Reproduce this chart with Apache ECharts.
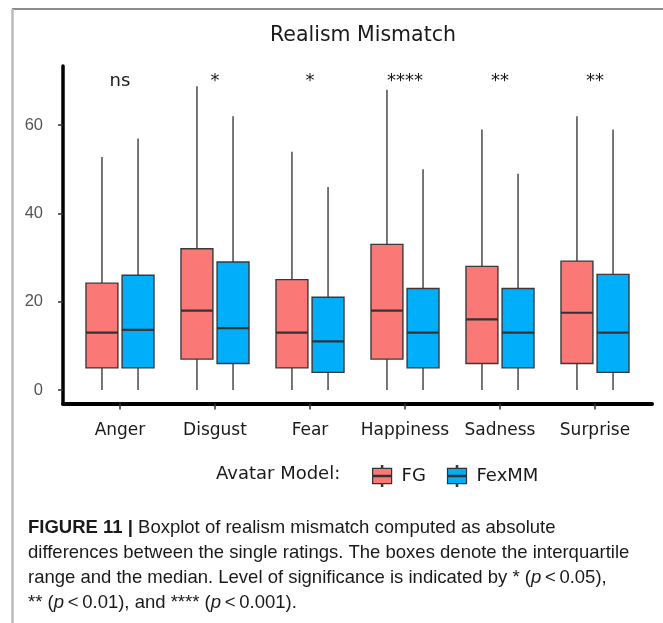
<!DOCTYPE html>
<html><head><meta charset="utf-8">
<script src="https://cdn.jsdelivr.net/npm/echarts@6/dist/echarts.min.js"></script>
<style>html,body{margin:0;padding:0;background:#fff}#c{width:663px;height:623px}</style>
</head><body><div id="c"></div>
<script>
// ---- data ----
const categories = ['Anger', 'Disgust', 'Fear', 'Happiness', 'Sadness', 'Surprise'];
// [min, Q1, median, Q3, max (whisker end)]
const fgStats = [
  [0, 5, 13, 24.2, 52.8],
  [0, 7, 18, 32, 68.8],
  [0, 5, 13, 25, 54],
  [0, 7, 18, 33, 68],
  [0, 6, 16, 28, 59],
  [0, 6, 17.5, 29.2, 62]
];
const fexmmStats = [
  [0, 5, 13.6, 26, 57],
  [0, 6, 14, 29, 62],
  [0, 4, 11, 21, 46],
  [0, 5, 13, 23, 50],
  [0, 5, 13, 23, 49],
  [0, 4, 13, 26.2, 59]
];
const significance = ['ns', '*', '*', '****', '**', '**'];
const sigLevel = [70, 70, 70, 70, 70, 70];
const yTicks = [0, 20, 40, 60];
const catPositions = [1, 2, 3, 4, 5, 6];

// ---- styling ----
const FG_COLOR = '#FA7876';
const FEX_COLOR = '#00AEFA';
const OFFSET = 0.19;
const HALF_W = 0.168;
const TS = '\u2009';

function makeBox(off, color) {
  return function (params, api) {
    const c = api.value(0) + off;
    const pMin = api.coord([c, api.value(1)]);
    const pQ1 = api.coord([c, api.value(2)]);
    const pMed = api.coord([c, api.value(3)]);
    const pQ3 = api.coord([c, api.value(4)]);
    const pMax = api.coord([c, api.value(5)]);
    const hw = api.size([HALF_W, 0])[0];
    return {
      type: 'group',
      children: [
        { type: 'line', shape: { x1: pMin[0], y1: pMin[1], x2: pQ1[0], y2: pQ1[1] }, style: { stroke: '#555', lineWidth: 1.6 } },
        { type: 'line', shape: { x1: pQ3[0], y1: pQ3[1], x2: pMax[0], y2: pMax[1] }, style: { stroke: '#555', lineWidth: 1.6 } },
        { type: 'rect', shape: { x: pQ3[0] - hw, y: pQ3[1], width: 2 * hw, height: pQ1[1] - pQ3[1] }, style: { fill: color, stroke: '#3a3a3a', lineWidth: 1.4 } },
        { type: 'line', shape: { x1: pMed[0] - hw, y1: pMed[1], x2: pMed[0] + hw, y2: pMed[1] }, style: { stroke: '#333', lineWidth: 2.2 } }
      ]
    };
  };
}

const chart = echarts.init(document.getElementById('c'), null, { renderer: 'canvas' });
const option = {
  animation: false,
  backgroundColor: '#fff',
  title: [
    { text: 'Realism Mismatch', left: 265, top: 20,
      textStyle: { fontFamily: 'DejaVu Sans', fontSize: 20.5, fontWeight: 'normal', color: '#1a1a1a' } },
    { text: 'Avatar Model:', left: 211, top: 460,
      textStyle: { fontFamily: 'DejaVu Sans', fontSize: 18, fontWeight: 'normal', color: '#1a1a1a' } }
  ],
  legend: {
    data: ['FG', 'FexMM'],
    left: 367, top: 460,
    itemWidth: 19, itemHeight: 22, itemGap: 21,
    icon: 'path://M9.3,0 L10.7,0 L10.7,3 L20,3 L20,19 L10.7,19 L10.7,22 L9.3,22 L9.3,19 L0,19 L0,3 L9.3,3 Z M0,10.3 L20,10.3 L20,11.7 L0,11.7 Z',
    itemStyle: { borderColor: '#333', borderWidth: 1.2 },
    textStyle: { fontFamily: 'DejaVu Sans', fontSize: 18, color: '#1a1a1a', padding: [0, 0, 0, 5] },
    selectedMode: false
  },
  grid: { left: 63, right: 11, top: 66, bottom: 219.5 },
  xAxis: {
    type: 'value', min: 0.4, max: 6.6,
    axisLine: { show: true, onZero: false, lineStyle: { color: '#000', width: 4 } },
    axisTick: { show: true, customValues: catPositions, length: 6, lineStyle: { color: '#333', width: 1.5 } },
    axisLabel: { customValues: catPositions, formatter: function (v) { return categories[Math.round(v) - 1]; },
      margin: 19, fontFamily: 'DejaVu Sans', fontSize: 17, color: '#1a1a1a' },
    splitLine: { show: false }
  },
  yAxis: {
    type: 'value', min: -3.06, max: 73.4,
    axisLine: { show: true, onZero: false, lineStyle: { color: '#000', width: 3.5 } },
    axisTick: { show: true, customValues: yTicks, length: 5, lineStyle: { color: '#333', width: 1.5 } },
    axisLabel: { customValues: yTicks, margin: 20, fontFamily: 'Liberation Sans', fontSize: 16.5, color: '#555' },
    splitLine: { show: false }
  },
  graphic: [
    { type: 'line', shape: { x1: 12, y1: 9, x2: 663, y2: 9 }, style: { stroke: '#666', lineWidth: 1.5 } },
    { type: 'line', shape: { x1: 12.5, y1: 9, x2: 12.5, y2: 623 }, style: { stroke: '#bbb', lineWidth: 2.5 } },
    { type: 'text', left: 28, top: 515,
      style: {
        text: '{b|FIGURE 11 |} Boxplot of realism mismatch computed as absolute\n' +
              'differences between the single ratings. The boxes denote the interquartile\n' +
              'range and the median. Level of significance is indicated by * ({i|p}' + TS + '<' + TS + '0.05),\n' +
              '** ({i|p}' + TS + '<' + TS + '0.01), and **** ({i|p}' + TS + '<' + TS + '0.001).',
        fill: '#1a1a1a', font: '18.5px "Liberation Sans"', lineHeight: 25,
        rich: {
          b: { fontWeight: 'bold', fontFamily: 'Liberation Sans', fontSize: 18.5, lineHeight: 25, fill: '#1a1a1a' },
          i: { fontStyle: 'italic', fontFamily: 'Liberation Sans', fontSize: 18.5, lineHeight: 25, fill: '#1a1a1a' }
        }
      }
    }
  ],
  series: [
    { type: 'custom', name: 'FG', itemStyle: { color: FG_COLOR },
      renderItem: makeBox(-OFFSET, FG_COLOR),
      encode: { x: 0, y: [1, 2, 3, 4, 5] },
      data: fgStats.map(function (s, i) { return [catPositions[i]].concat(s); }) },
    { type: 'custom', name: 'FexMM', itemStyle: { color: FEX_COLOR },
      renderItem: makeBox(OFFSET, FEX_COLOR),
      encode: { x: 0, y: [1, 2, 3, 4, 5] },
      data: fexmmStats.map(function (s, i) { return [catPositions[i]].concat(s); }) },
    { type: 'custom', name: 'sig',
      renderItem: function (params, api) {
        const p = api.coord([api.value(0), api.value(1)]);
        return { type: 'text', x: p[0], y: p[1],
          style: { text: significance[params.dataIndex], align: 'center', verticalAlign: 'middle',
            font: '18px "DejaVu Sans"', fill: '#1a1a1a' } };
      },
      encode: { x: 0, y: 1 },
      data: significance.map(function (s, i) { return [catPositions[i], sigLevel[i]]; }) }
  ]
};
chart.setOption(option);
</script>
</body></html>
